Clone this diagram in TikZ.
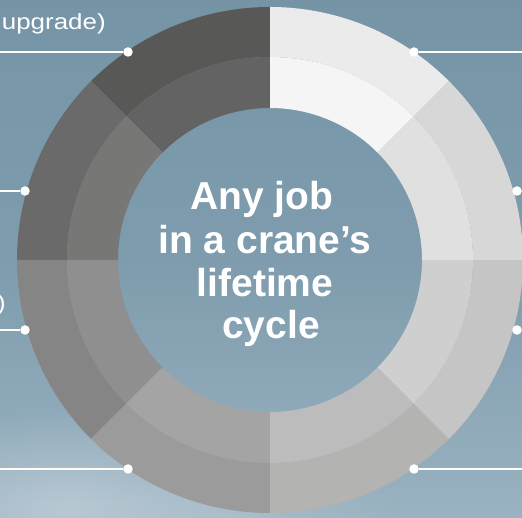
\documentclass[tikz,border=0pt]{standalone}
\usepackage{fontspec}
\usepackage{graphicx}
\setmainfont{Liberation Sans}
\usetikzlibrary{fadings}
\definecolor{bgtop}{HTML}{7595A7}
\definecolor{bgmid}{HTML}{7E9CAD}
\definecolor{bgbot}{HTML}{9AB2C1}
\tikzfading[name=fuzzyc, inner color=transparent!0, outer color=transparent!100]
\begin{document}
\begin{tikzpicture}[x=1pt,y=1pt,
  dot/.style={circle,fill=white,inner sep=0pt,minimum size=9.5pt},
  lead/.style={draw=white,line width=1.5pt},
  big/.style={font=\fontsize{39}{43}\selectfont\bfseries,text=white,inner sep=0pt,anchor=base},
  small/.style={font=\fontsize{22}{26}\selectfont,text=white,inner sep=0pt,anchor=base east}]
\useasboundingbox (0,0) rectangle (522,518);
\begin{scope}
\clip (0,0) rectangle (522,518);
% background
\shade[top color=bgtop, bottom color=bgbot, middle color=bgmid] (0,0) rectangle (522,518);
\fill[white, opacity=0.3, path fading=fuzzyc] (70,10) ellipse (210 and 100);
\fill[white, opacity=0.12, path fading=fuzzyc] (250,0) ellipse (160 and 60);
% ring
\begin{scope}[shift={(270,258)}]
\foreach \a/\co/\ci in {90/585856/636363, 135/6A6A6A/777775, 180/858585/8F8F8F,
  225/9B9B9B/A4A4A4, 270/B3B3B1/BCBCBC, 315/C5C5C5/CFCFCF, 0/D7D7D7/E0E0E0,
  45/EBEBEB/F5F5F5}{
  \pgfmathsetmacro\b{\a+45}
  \definecolor{co}{HTML}{\co}
  \definecolor{ci}{HTML}{\ci}
  \fill[co] (\a:253) arc[start angle=\a, end angle=\b, radius=253]
     -- (\b:203) arc[start angle=\b, end angle=\a, radius=203] -- cycle;
  \fill[ci] (\a:203) arc[start angle=\a, end angle=\b, radius=203]
     -- (\b:152) arc[start angle=\b, end angle=\a, radius=152] -- cycle;
}
\end{scope}
% dots and leader lines
\node[dot] (d1) at (128,466) {};
\node[dot] (d2) at (25,327) {};
\node[dot] (d3) at (25,188) {};
\node[dot] (d4) at (128,49) {};
\node[dot] (d5) at (414,466) {};
\node[dot] (d6) at (517,327) {};
\node[dot] (d7) at (517,188) {};
\node[dot] (d8) at (414,49) {};
\coordinate (e1) at (-2,466);
\coordinate (e2) at (-2,327);
\coordinate (e3) at (-2,188);
\coordinate (e4) at (-2,49);
\coordinate (e5) at (524,466);
\coordinate (e6) at (524,327);
\coordinate (e7) at (524,188);
\coordinate (e8) at (524,49);
\draw[lead] (e1) -- (d1);
\draw[lead] (e2) -- (d2);
\draw[lead] (e3) -- (d3);
\draw[lead] (e4) -- (d4);
\draw[lead] (e5) -- (d5);
\draw[lead] (e6) -- (d6);
\draw[lead] (e7) -- (d7);
\draw[lead] (e8) -- (d8);
% side texts (cut by the picture edge)
\node[small] (l1) at (106,488) {\scalebox{1.18}[1]{n upgrade)}};
\node[small] (l2) at (6,207) {\scalebox{1.18}[1]{)}};
% centre text
\node[big] (t1) at (262,308) {Any job};
\node[big] (t2) at (265,264) {in a crane’s};
\node[big] (t3) at (265,221) {lifetime};
\node[big] (t4) at (271,179) {cycle};
\end{scope}
\end{tikzpicture}
\end{document}
